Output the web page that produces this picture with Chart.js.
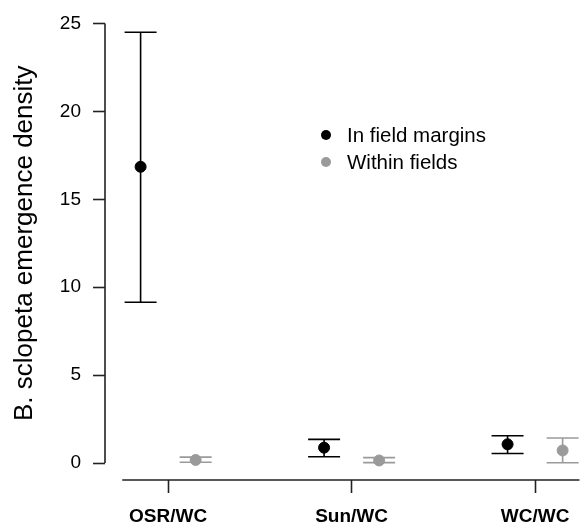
<!DOCTYPE html>
<html>
<head>
<meta charset="utf-8">
<script src="https://cdn.jsdelivr.net/npm/chart.js@4/dist/chart.umd.min.js"></script>
<style>
  html, body { margin: 0; padding: 0; background: #fff; }
  #wrap { width: 586px; height: 526px; }
</style>
</head>
<body>
<div id="wrap"><canvas id="myChart"></canvas></div>
<script>
const categories = ["OSR/WC", "Sun/WC", "WC/WC"];
const yTicks = [0, 5, 10, 15, 20, 25];
const yTitle = "B. sclopeta emergence density";

// In field margins
const marginMean = [16.85, 0.88, 1.07];
const marginLow = [9.15, 0.36, 0.55];
const marginHigh = [24.5, 1.35, 1.56];

// Within fields
const withinMean = [0.18, 0.15, 0.72];
const withinLow = [0.05, 0.03, 0.02];
const withinHigh = [0.34, 0.31, 1.43];

const FONT = "'Liberation Sans', Arial, sans-serif";
const AXIS = "#222222";
const GREY = "#9a9a9a";
const SHIFT = 0.15; // side-by-side offset of the two groups

function pts(means, shift) {
    return means.map((v, i) => ({x: i + shift, y: v}));
}

const data = {
    datasets: [{
        label: "In field margins",
        data: pts(marginMean, -SHIFT),
        low: marginLow,
        high: marginHigh,
        backgroundColor: "#000000",
        borderColor: "#000000",
        pointRadius: 5.5,
        pointHoverRadius: 5.5,
        showLine: false,
    }, {
        label: "Within fields",
        data: pts(withinMean, SHIFT),
        low: withinLow,
        high: withinHigh,
        backgroundColor: GREY,
        borderColor: GREY,
        pointRadius: 5.5,
        pointHoverRadius: 5.5,
        showLine: false,
    }],
};

// error bars with caps, drawn under the points
const errorBars = {
    id: "errorBars",
    beforeDatasetsDraw(chart) {
        const {ctx, scales: {x, y}} = chart;
        ctx.save();
        ctx.lineWidth = 1.6;
        chart.data.datasets.forEach(ds => {
            ctx.strokeStyle = ds.borderColor;
            ds.data.forEach((p, i) => {
                const px = x.getPixelForValue(p.x);
                const top = y.getPixelForValue(ds.high[i]);
                const bot = y.getPixelForValue(ds.low[i]);
                ctx.beginPath();
                ctx.moveTo(px, top); ctx.lineTo(px, bot);
                ctx.moveTo(px - 16, top); ctx.lineTo(px + 16, top);
                ctx.moveTo(px - 16, bot); ctx.lineTo(px + 16, bot);
                ctx.stroke();
            });
        });
        ctx.restore();
    }
};

// R-style detached axis lines, y title (centred on the 0..25 span) and legend
const rAxes = {
    id: "rAxes",
    afterDraw(chart) {
        const {ctx, chartArea, scales: {x, y}} = chart;
        const y0 = y.getPixelForValue(yTicks[0]);
        const y1 = y.getPixelForValue(yTicks[yTicks.length - 1]);
        ctx.save();
        ctx.strokeStyle = AXIS;
        ctx.lineWidth = 1.6;
        ctx.beginPath();
        ctx.moveTo(chartArea.left, y0);
        ctx.lineTo(chartArea.left, y1);
        ctx.moveTo(x.getPixelForValue(-0.25), chartArea.bottom);
        ctx.lineTo(chartArea.right, chartArea.bottom);
        ctx.stroke();

        ctx.fillStyle = "#000";
        ctx.font = "26px " + FONT;
        ctx.textAlign = "center";
        ctx.textBaseline = "middle";
        ctx.save();
        ctx.translate(25, (y0 + y1) / 2);
        ctx.rotate(-Math.PI / 2);
        ctx.fillText(yTitle, 0, 0);
        ctx.restore();

        ctx.font = "20.5px " + FONT;
        ctx.textAlign = "left";
        chart.data.datasets.forEach((ds, i) => {
            const ly = 135 + i * 27;
            ctx.fillStyle = ds.backgroundColor;
            ctx.beginPath();
            ctx.arc(326, ly, 5, 0, Math.PI * 2);
            ctx.fill();
            ctx.fillStyle = "#000";
            ctx.fillText(ds.label, 347, ly + 1);
        });
        ctx.restore();
    }
};

const config = {
    type: "scatter",
    data: data,
    options: {
        responsive: true,
        maintainAspectRatio: false,
        animation: false,
        layout: {padding: {top: 20, right: 0, bottom: 0, left: 0}},
        scales: {
            x: {
                type: "linear",
                min: -0.344,
                max: 2.242,
                afterFit(scale) { scale.height = 46; },
                afterBuildTicks(scale) {
                    scale.ticks = categories.map((c, i) => ({value: i}));
                },
                grid: {
                    drawOnChartArea: false,
                    tickLength: 13,
                    tickColor: AXIS,
                    tickWidth: 1.6,
                },
                border: {display: false},
                ticks: {
                    color: "#000",
                    padding: 12,
                    maxRotation: 0,
                    autoSkip: false,
                    font: {family: FONT, size: 19, weight: "bold"},
                    callback: v => categories[v],
                },
            },
            y: {
                min: -0.96,
                max: 25,
                afterFit(scale) { scale.width = 105; },
                afterBuildTicks(scale) {
                    scale.ticks = yTicks.map(v => ({value: v}));
                },
                grid: {
                    drawOnChartArea: false,
                    tickLength: 12,
                    tickColor: AXIS,
                    tickWidth: 1.6,
                },
                border: {display: false},
                ticks: {
                    color: "#000",
                    padding: 12,
                    font: {family: FONT, size: 19},
                },
            },
        },
        plugins: {
            legend: {display: false},
            tooltip: {enabled: false},
        },
        events: [],
    },
    plugins: [errorBars, rAxes],
};

const myChart = new Chart(document.getElementById("myChart"), config);
</script>
</body>
</html>
